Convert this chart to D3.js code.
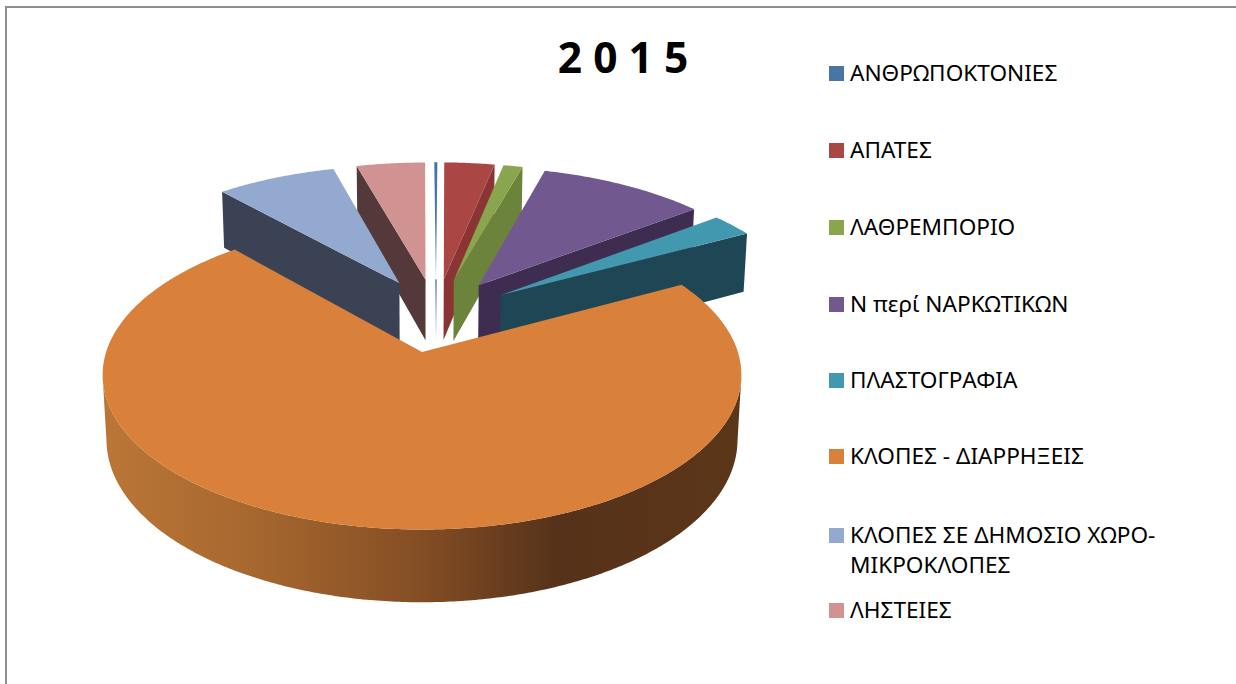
<!DOCTYPE html>
<html><head><meta charset="utf-8">
<script src="https://cdn.jsdelivr.net/npm/d3@7"></script>
<style>html,body{margin:0;padding:0;background:#fff;overflow:hidden}svg{display:block}</style>
</head><body><svg id="c" width="1236" height="684"></svg>
<script>
const title = "2 0 1 5";
const categories = ["ΑΝΘΡΩΠΟΚΤΟΝΙΕΣ","ΑΠΑΤΕΣ","ΛΑΘΡΕΜΠΟΡΙΟ","Ν περί ΝΑΡΚΩΤΙΚΩΝ","ΠΛΑΣΤΟΓΡΑΦΙΑ","ΚΛΟΠΕΣ - ΔΙΑΡΡΗΞΕΙΣ","ΚΛΟΠΕΣ ΣΕ ΔΗΜΟΣΙΟ ΧΩΡΟ- ΜΙΚΡΟΚΛΟΠΕΣ","ΛΗΣΤΕΙΕΣ"];
const values = [0.19, 3.06, 1.17, 10.11, 2.58, 71.44, 7.28, 4.17];
const topColors = ["#4775a8","#aa4644","#89a54e","#71588f","#4198af","#d9803b","#93a9cf","#d19392"];
const wallColors = ["#7f9cc4","#8a3534","#6b833b","#3f2d51","#1f4655","#56321a","#3b4254","#53393a"];

const svg = d3.select("#c");
const cx = 422, y0 = 352, A = 316.5, B = 151.6, P = 0.148, Q = 0.012, H = 65, E = 0.26;
const radiusBig = 0.998, radiusOther = 1.02;
const project = (u, v, z) => { const w = 1 - P * v + Q * z; return [cx + A * u / w, y0 + (B * v + H * z) / w]; };
const line = d3.line();
const color = d3.scaleOrdinal(categories, topColors);
const wall = d3.scaleOrdinal(categories, wallColors);

const slices = d3.pie().sort(null).value(d => d.v)(categories.map((c, i) => ({c, v: values[i]})));
const mid = s => (s.startAngle + s.endAngle) / 2;
const dir = a => [Math.sin(a), -Math.cos(a)];
const big = slices[d3.maxIndex(slices, s => s.value)];
const bd = dir(mid(big));
const origin = [-E * bd[0], -E * bd[1]];
const apexOf = s => { const d = dir(mid(s)); return [origin[0] + E * d[0], origin[1] + E * d[1]]; };
const rimPt = (s, a, z) => { const o = apexOf(s), d = dir(a), R = s === big ? radiusBig : radiusOther; return project(o[0] + R * d[0], o[1] + R * d[1], z); };
const arcAngles = (s) => { const n = Math.max(2, Math.ceil((s.endAngle - s.startAngle) / 0.01)); return d3.range(n + 1).map(i => s.startAngle + (s.endAngle - s.startAngle) * i / n); };

const defs = svg.append("defs");
const g1 = defs.append("linearGradient").attr("id", "frontWall").attr("gradientUnits", "userSpaceOnUse").attr("x1", 105).attr("x2", 742).attr("y1", 0).attr("y2", 0);
[[0, "#bb7637"], [0.25, "#a5662e"], [0.5, "#834d24"], [0.71, "#56321a"], [1, "#5c3618"]].forEach(([o, c]) => g1.append("stop").attr("offset", o).attr("stop-color", c));

// frame
svg.append("path").attr("d", "M6,684V7H1236").attr("fill", "none").attr("stroke", "#8e8e8e").attr("stroke-width", 2);

const order = slices.slice().sort((a, b) => {
  const f = s => { const m = mid(s); return Math.min(m, 2 * Math.PI - m); };
  return f(a) - f(b);
});
const pie = svg.append("g");
order.forEach((s) => {
  const o = apexOf(s), name = s.data.c, isBig = s === big;
  const m = mid(s);
  if (isBig) {
    // only the part of the rim that faces the viewer, so the strip does not fold over itself
    const ang = arcAngles(s).filter(a => -Math.cos(a) >= P);
    const pts = ang.map(a => rimPt(s, a, 0)).concat(ang.slice().reverse().map(a => rimPt(s, a, 1)));
    pie.append("path").attr("d", line(pts) + "Z").attr("fill", "url(#frontWall)");
  } else if (s.endAngle - s.startAngle < 0.03) {
    const p0 = project(o[0], o[1], 0), p1 = project(o[0], o[1], 1);
    const id = "fade" + s.index;
    const g = defs.append("linearGradient").attr("id", id).attr("gradientUnits", "userSpaceOnUse").attr("x1", p0[0]).attr("x2", p1[0]).attr("y1", p0[1]).attr("y2", p1[1]);
    g.append("stop").attr("offset", 0).attr("stop-color", wall(name));
    g.append("stop").attr("offset", 1).attr("stop-color", "#ffffff");
    pie.append("rect").attr("x", p0[0] - 1).attr("y", p0[1]).attr("width", 2).attr("height", p1[1] - p0[1]).attr("fill", `url(#${id})`);
  } else {
    const a = m < Math.PI ? s.endAngle : s.startAngle;
    const pts = [project(o[0], o[1], 0), rimPt(s, a, 0), rimPt(s, a, 1), project(o[0], o[1], 1)];
    pie.append("path").attr("d", line(pts) + "Z").attr("fill", wall(name));
  }
  const face = [project(o[0], o[1], 0)].concat(arcAngles(s).map(a => rimPt(s, a, 0)));
  pie.append("path").attr("d", line(face) + "Z").attr("fill", color(name));
});

// title
svg.append("text").attr("x", 623).attr("y", 73).attr("text-anchor", "middle")
  .attr("font-family", "'Noto Sans'").attr("font-weight", 700).attr("font-size", 42.5).attr("fill", "#000").text(title);

// legend
const rowBase = [81, 158, 235, 312, 388, 464, 543, 618];
const legend = svg.append("g").attr("font-family", "'Noto Sans'").attr("font-size", 22.6).attr("fill", "#000");
categories.forEach((c, i) => {
  legend.append("rect").attr("x", 829).attr("y", rowBase[i] - 15).attr("width", 15).attr("height", 15).attr("fill", color(c));
  const parts = c.split(" ΧΩΡΟ- ");
  if (parts.length === 2) {
    legend.append("text").attr("x", 850).attr("y", rowBase[i]).text(parts[0] + " ΧΩΡΟ-");
    legend.append("text").attr("x", 850).attr("y", rowBase[i] + 30).text(parts[1]);
  } else {
    legend.append("text").attr("x", 850).attr("y", rowBase[i]).text(c);
  }
});
</script></body></html>
